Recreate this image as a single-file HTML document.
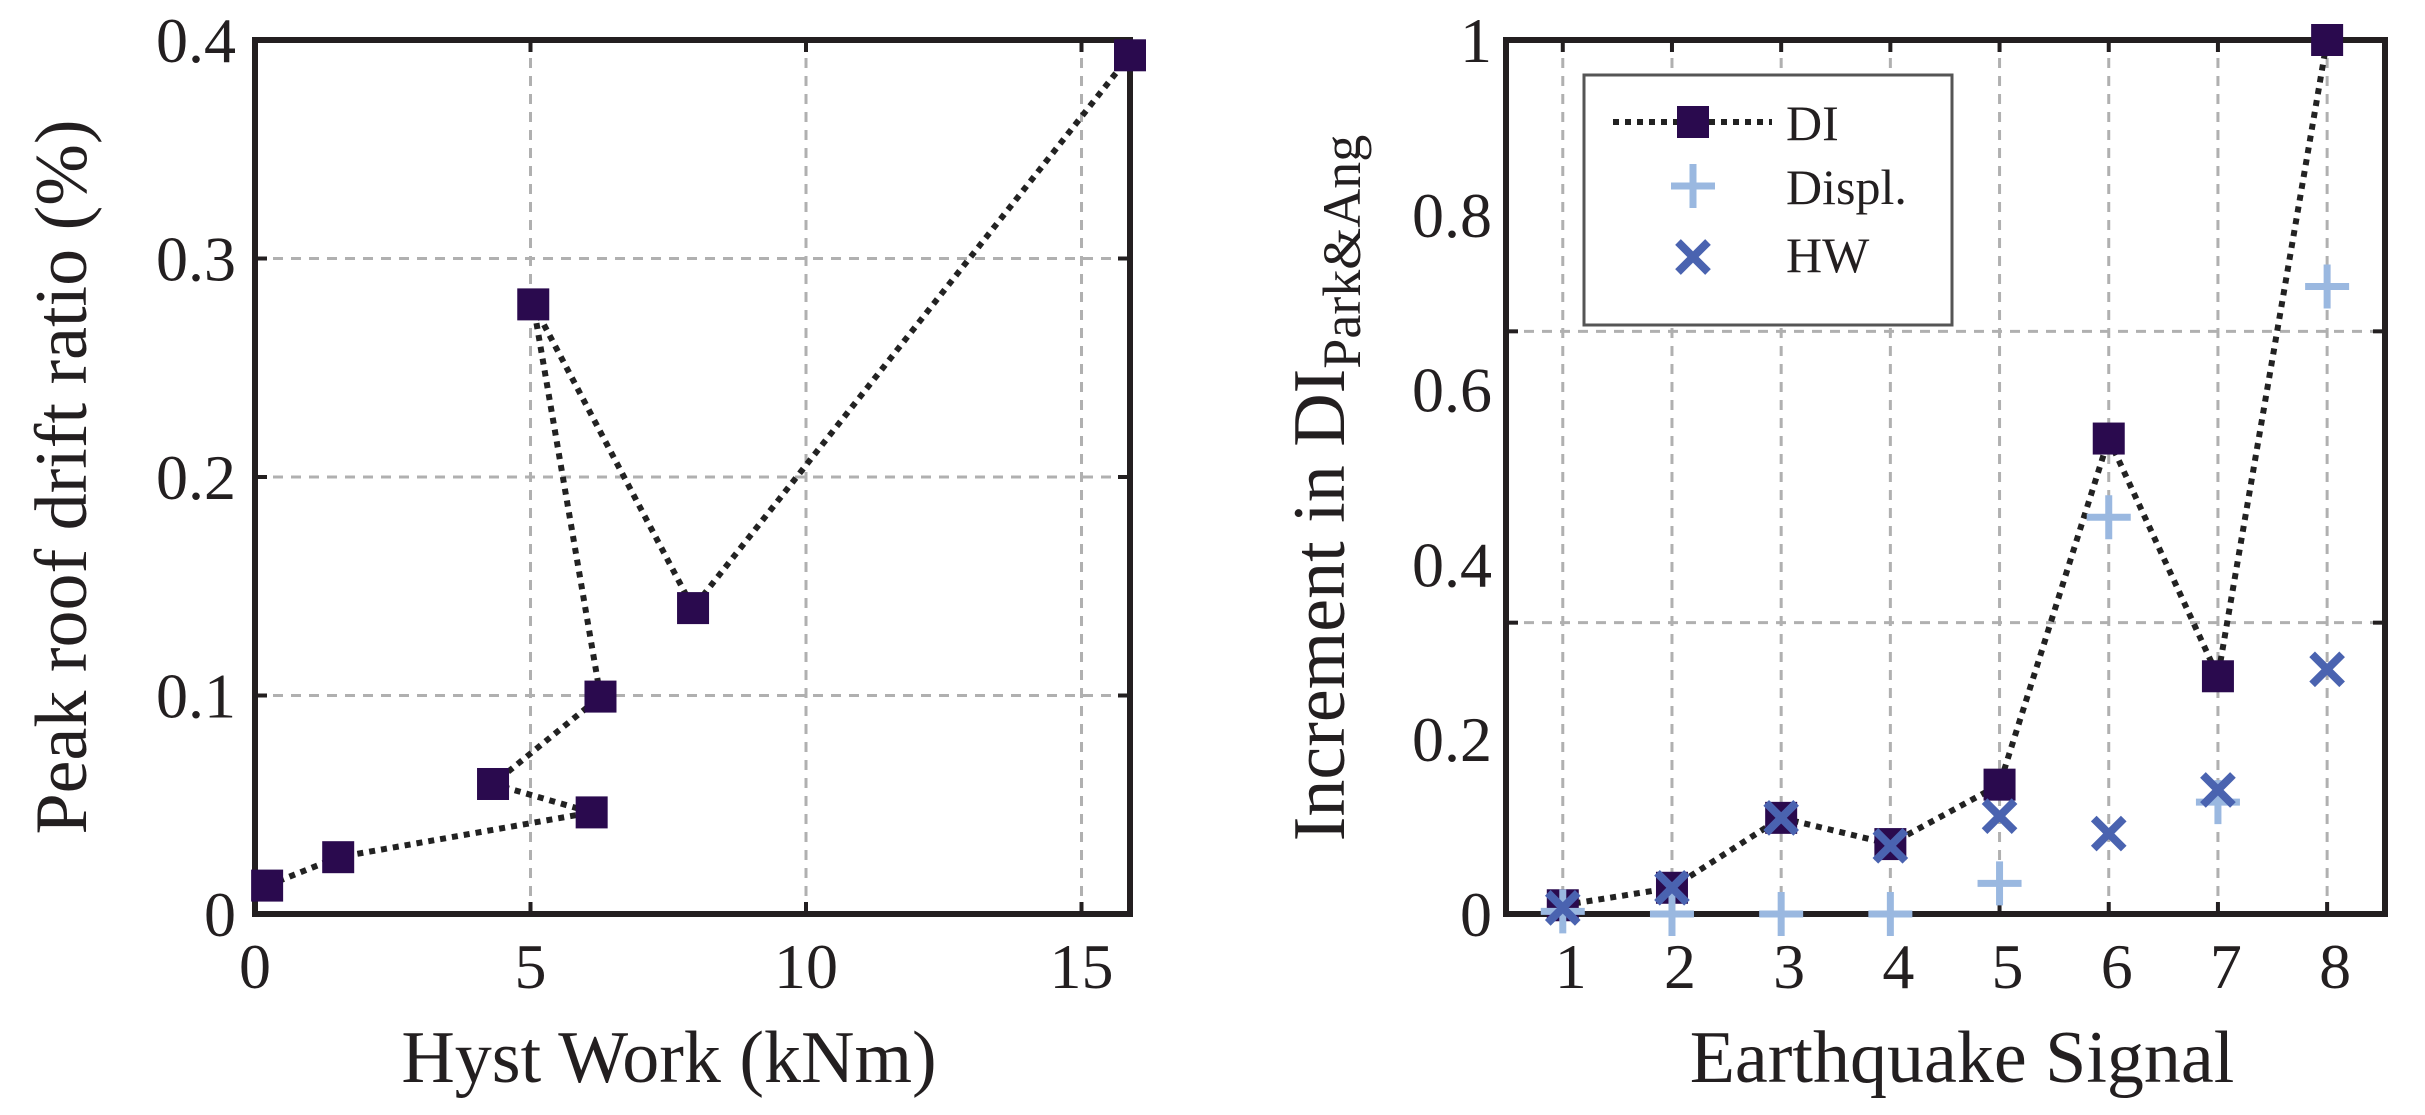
<!DOCTYPE html>
<html><head><meta charset="utf-8"><style>
html,body{margin:0;padding:0;background:#fff}
svg{display:block}
text{font-family:"Liberation Serif",serif;fill:#231f20}
</style></head><body>
<svg id="chart" width="2425" height="1115" viewBox="0 0 2425 1115" xmlns="http://www.w3.org/2000/svg">
<g id="left"></g>
<g id="right"></g>
</svg>
<script>
// Left chart data (in line order)
const hystWork = [0.22, 1.51, 6.11, 4.32, 6.27, 5.05, 7.95, 15.88];
const peakDrift = [0.013, 0.026, 0.0465, 0.0595, 0.0995, 0.279, 0.140, 0.393];
const leftXTicks = [0, 5, 10, 15];
const leftYTicks = [0, 0.1, 0.2, 0.3, 0.4];
// Right chart data
const signals = [1, 2, 3, 4, 5, 6, 7, 8];
const diValues = [0.01, 0.03, 0.11, 0.08, 0.148, 0.544, 0.272, 1.0];
const displValues = [0.003, 0.0, 0.0, 0.0, 0.035, 0.454, 0.128, 0.718];
const hwValues = [0.007, 0.03, 0.11, 0.078, 0.112, 0.092, 0.142, 0.28];
const rightYTicks = [0, 0.2, 0.4, 0.6, 0.8, 1];
const rightYGrid = [1/3, 2/3];

const NS = "http://www.w3.org/2000/svg";
function mk(parent, tag, attrs, txt) {
  const e = document.createElementNS(NS, tag);
  for (const k in attrs) e.setAttribute(k, attrs[k]);
  if (txt !== undefined) e.textContent = txt;
  parent.appendChild(e);
  return e;
}
const GRID = {stroke:"#b0b0b0", "stroke-width":3, "stroke-dasharray":"10 8", fill:"none"};
const PURPLE = "#2a0a4e", PLUS = "#9ab8e0", XC = "#4a63b0";

function square(g, x, y, name) {
  const r = mk(g, "rect", {x:x-16, y:y-16, width:32, height:32, fill:PURPLE});
  
  
}
function plus(g, x, y, name) {
  const p = mk(g, "path", {d:`M${x-22} ${y}H${x+22}M${x} ${y-22}V${y+22}`, stroke:PLUS, "stroke-width":7, fill:"none"});
  
  
}
function cross(g, x, y, name) {
  const p = mk(g, "path", {d:`M${x-15} ${y-15}L${x+15} ${y+15}M${x+15} ${y-15}L${x-15} ${y+15}`, stroke:XC, "stroke-width":8, fill:"none"});
  
  
}
function dotted(g, pts, name) {
  const p = mk(g, "polyline", {points:pts.map(p=>p.join(",")).join(" "), fill:"none", stroke:"#222", "stroke-width":6, "stroke-dasharray":"6 6"});
  
  
}

// ---------- Left panel ----------
(function(){
  const g = document.getElementById("left");
  const L=255, R=1130, T=40, B=914;
  const x = v => L + (v-0)/(15.88-0)*(R-L);
  const y = v => B - v/0.4*(B-T);
  leftXTicks.forEach(t=>{
    if (t>0) { const gl = mk(g,"line",Object.assign({x1:x(t),x2:x(t),y1:T,y2:B},GRID));
        }
    mk(g,"line",{x1:x(t),x2:x(t),y1:B,y2:B-12,stroke:"#231f20","stroke-width":4});
    mk(g,"line",{x1:x(t),x2:x(t),y1:T,y2:T+12,stroke:"#231f20","stroke-width":4});
    const tl = mk(g,"text",{x:x(t),y:988,"font-size":64,"text-anchor":"middle"},String(t));
     
  });
  leftYTicks.forEach(t=>{
    if (t>0 && t<0.4) { const gl = mk(g,"line",Object.assign({x1:L,x2:R,y1:y(t),y2:y(t)},GRID));
        }
    mk(g,"line",{x1:L,x2:L+12,y1:y(t),y2:y(t),stroke:"#231f20","stroke-width":4});
    mk(g,"line",{x1:R,x2:R-12,y1:y(t),y2:y(t),stroke:"#231f20","stroke-width":4});
    const tl = mk(g,"text",{x:236,y:y(t)+22,"font-size":64,"text-anchor":"end"},t===0?"0":t.toFixed(1));
     
  });
  const fr = mk(g,"rect",{x:L,y:T,width:R-L,height:B-T,fill:"none",stroke:"#231f20","stroke-width":6});
   
  dotted(g, hystWork.map((v,i)=>[x(v),y(peakDrift[i])]), 'drift-line');
  hystWork.forEach((v,i)=>square(g,x(v),y(peakDrift[i]),'drift-point'));
  const xl = mk(g,"text",{x:669,y:1082,"font-size":74,"text-anchor":"middle"},"Hyst Work (kNm)");
   
  const yl = mk(g,"text",{x:0,y:0,"font-size":74,"text-anchor":"middle",transform:"translate(86,477) rotate(-90)"},"Peak roof drift ratio (%)");
   
})();

// ---------- Right panel ----------
(function(){
  const g = document.getElementById("right");
  const L=1506, R=2385, T=40, B=914;
  const x = v => L + (v-0.48)/(8.53-0.48)*(R-L);
  const y = v => B - v*(B-T);
  signals.forEach(t=>{
    const gl = mk(g,"line",Object.assign({x1:x(t),x2:x(t),y1:T,y2:B},GRID));
     
    mk(g,"line",{x1:x(t),x2:x(t),y1:B,y2:B-12,stroke:"#231f20","stroke-width":4});
    mk(g,"line",{x1:x(t),x2:x(t),y1:T,y2:T+12,stroke:"#231f20","stroke-width":4});
    const tl = mk(g,"text",{x:x(t)+8,y:988,"font-size":64,"text-anchor":"middle"},String(t));
     
  });
  rightYGrid.forEach(t=>{
    const gl = mk(g,"line",Object.assign({x1:L,x2:R,y1:y(t),y2:y(t)},GRID));
     
    mk(g,"line",{x1:L,x2:L+12,y1:y(t),y2:y(t),stroke:"#231f20","stroke-width":4});
    mk(g,"line",{x1:R,x2:R-12,y1:y(t),y2:y(t),stroke:"#231f20","stroke-width":4});
  });
  rightYTicks.forEach(t=>{
    const tl = mk(g,"text",{x:1492,y:y(t)+22,"font-size":64,"text-anchor":"end"},(t===0||t===1)?String(t):t.toFixed(1));
     
  });
  const fr = mk(g,"rect",{x:L,y:T,width:R-L,height:B-T,fill:"none",stroke:"#231f20","stroke-width":6});
   
  dotted(g, signals.map((s,i)=>[x(s),y(diValues[i])]), 'di-line');
  signals.forEach((s,i)=>square(g,x(s),y(diValues[i]),'di-point'));
  signals.forEach((s,i)=>plus(g,x(s),y(displValues[i]),'displ-point'));
  signals.forEach((s,i)=>cross(g,x(s),y(hwValues[i]),'hw-point'));
  // legend
  const lg = mk(g,"g",{});
   
  mk(lg,"rect",{x:1584,y:75,width:368,height:250,fill:"#fff",stroke:"#555","stroke-width":3});
  mk(lg,"line",{x1:1613,x2:1772,y1:122,y2:122,stroke:"#222","stroke-width":6,"stroke-dasharray":"6 6"});
  square(lg,1693,122,'legend-di-marker');
  plus(lg,1693,186,'legend-displ-marker');
  cross(lg,1693,257,'legend-hw-marker');
  const e1 = mk(lg,"text",{x:1786,y:140,"font-size":50},"DI");
   
  const e2 = mk(lg,"text",{x:1786,y:204,"font-size":50},"Displ.");
   
  const e3 = mk(lg,"text",{x:1786,y:272,"font-size":50},"HW");
   
  const xl = mk(g,"text",{x:1962,y:1082,"font-size":74,"text-anchor":"middle"},"Earthquake Signal");
   
  const yl = mk(g,"text",{x:0,y:0,"font-size":74,"text-anchor":"middle",transform:"translate(1344,488) rotate(-90)"});
   
  mk(yl,"tspan",{},"Increment in DI");
  mk(yl,"tspan",{"font-size":54,dy:16},"Park&Ang");
})();
</script>
</body></html>
